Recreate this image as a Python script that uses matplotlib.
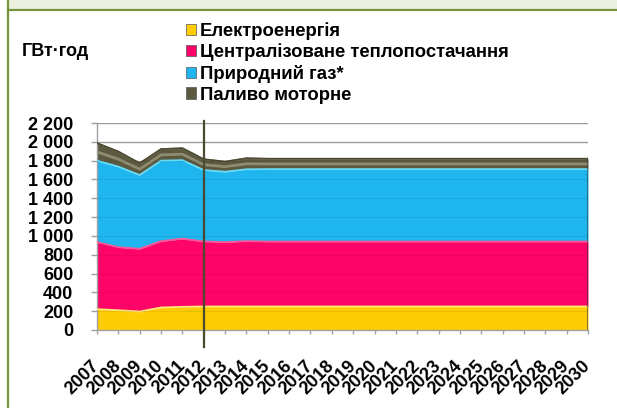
import matplotlib
matplotlib.use("Agg")
import matplotlib.pyplot as plt
from matplotlib.patches import Patch, Rectangle
from matplotlib.lines import Line2D
import numpy as np

plt.rcParams['font.family'] = ['Liberation Sans', 'DejaVu Sans']
plt.rcParams['font.weight'] = 'bold'

# values, GWh
years = list(range(2007, 2031))
electricity = [221, 210, 196, 239, 246, 250, 250, 250, 250, 250, 250, 250,
               250, 250, 250, 250, 250, 250, 250, 250, 250, 250, 250, 250]
district_heat = [713, 670, 667, 705, 724, 691, 684, 694, 690, 690, 690, 690,
                 690, 690, 690, 690, 690, 690, 690, 690, 690, 690, 690, 690]
natural_gas = [866, 856, 784, 856, 835, 759, 748, 764, 770, 770, 770, 770,
               770, 770, 770, 770, 770, 770, 770, 770, 770, 770, 770, 770]
motor_fuel = [186, 160, 125, 122, 127, 115, 107, 117, 110, 110, 110, 110,
              110, 110, 110, 110, 110, 110, 110, 110, 110, 110, 110, 110]

labels = ['Електроенергія', 'Централізоване теплопостачання',
          'Природний газ*', 'Паливо моторне']
colors = ['#ffcc05', '#fe0468', '#1fb5ee', '#5b5940']
tops = ['#ffe970', '#ff5596', '#66dcf7', '#8f8b6f']
yticks = [0, 200, 400, 600, 800, 1000, 1200, 1400, 1600, 1800, 2000, 2200]
split_year = 2012

W, H = 617, 408
fig = plt.figure(figsize=(W / 100, H / 100), dpi=100)
fig.patch.set_facecolor('white')

# frame of the slide
fig.add_artist(Rectangle((8 / W, 1 - 10 / H), 1, 10 / H, transform=fig.transFigure,
                         facecolor='#ebf1de', edgecolor='none'))
fig.add_artist(Line2D([7.5 / W, 1], [1 - 10 / H, 1 - 10 / H], transform=fig.transFigure,
                      color='#77933c', lw=1.6))
fig.add_artist(Line2D([7.5 / W, 7.5 / W], [0, 1], transform=fig.transFigure,
                      color='#77933c', lw=1.6))

ax = fig.add_axes([97 / W, 1 - 330 / H, (588 - 97) / W, (330 - 123) / H])
ax.set_facecolor('white')

x = np.array(years)
series = [electricity, district_heat, natural_gas, motor_fuel]
base = np.zeros(len(years))
for vals, c, tc in zip(series, colors, tops):
    top = base + np.array(vals)
    ax.fill_between(x, base, top, color=c, lw=0, zorder=2)
    ax.plot(x, top, color=tc, lw=1.3, zorder=3)
    base = top

# tube highlight of the motor fuel band
mid = base - np.array(motor_fuel) / 2
ax.plot(x, mid, color='#8f8b6f', lw=2.0, zorder=3, solid_capstyle='butt')
ax.plot(x, base, color='#4a4832', lw=1.2, zorder=3)
# dark right edge
ax.plot([x[-1], x[-1]], [0, base[-1]], color='#3b3b3b', lw=1.5, alpha=0.6, zorder=3)

for v in yticks[1:]:
    ax.axhline(v, color='#a6a6a6', lw=1.0, zorder=1)
    ax.axhline(v, color='black', lw=0.8, alpha=0.07, zorder=4)

ax.plot([split_year, split_year], [-0.083, 1.01], transform=ax.get_xaxis_transform(),
        color='#4b4a2e', lw=1.6, clip_on=False, zorder=5)

ax.set_xlim(2007, 2030)
ax.set_ylim(0, 2200)
ax.set_yticks(yticks)
ax.set_yticklabels([f'{v:,}'.replace(',', ' ') for v in yticks])
ax.set_xticks(years)
ax.set_xticklabels([str(y) for y in years])
for lbl in ax.get_xticklabels():
    lbl.set_rotation(45)
    lbl.set_ha('right')
    lbl.set_va('center')
    lbl.set_rotation_mode('anchor')

for s in ['top', 'right']:
    ax.spines[s].set_visible(False)
for s in ['left', 'bottom']:
    ax.spines[s].set_color('#a0a0a0')
    ax.spines[s].set_linewidth(1.0)
ax.tick_params(axis='y', length=4, width=1, color='#a0a0a0', pad=13, labelsize=13)
ax.tick_params(axis='x', length=3, width=1, color='#a0a0a0', pad=21, labelsize=13)

fig.text(22 / W, 1 - 51 / H, 'ГВт·год', fontsize=13, fontweight='bold', va='center')

handles = [Patch(facecolor=c, edgecolor='#555555', lw=0.5) for c in colors]
fig.legend(handles, labels, loc='upper left', bbox_to_anchor=(186 / W, 1 - 22 / H),
           frameon=False, fontsize=13.3, handlelength=0.55, handleheight=0.55,
           handletextpad=0.2, labelspacing=0.2, borderpad=0, borderaxespad=0)

fig.savefig('out.png', dpi=100)
